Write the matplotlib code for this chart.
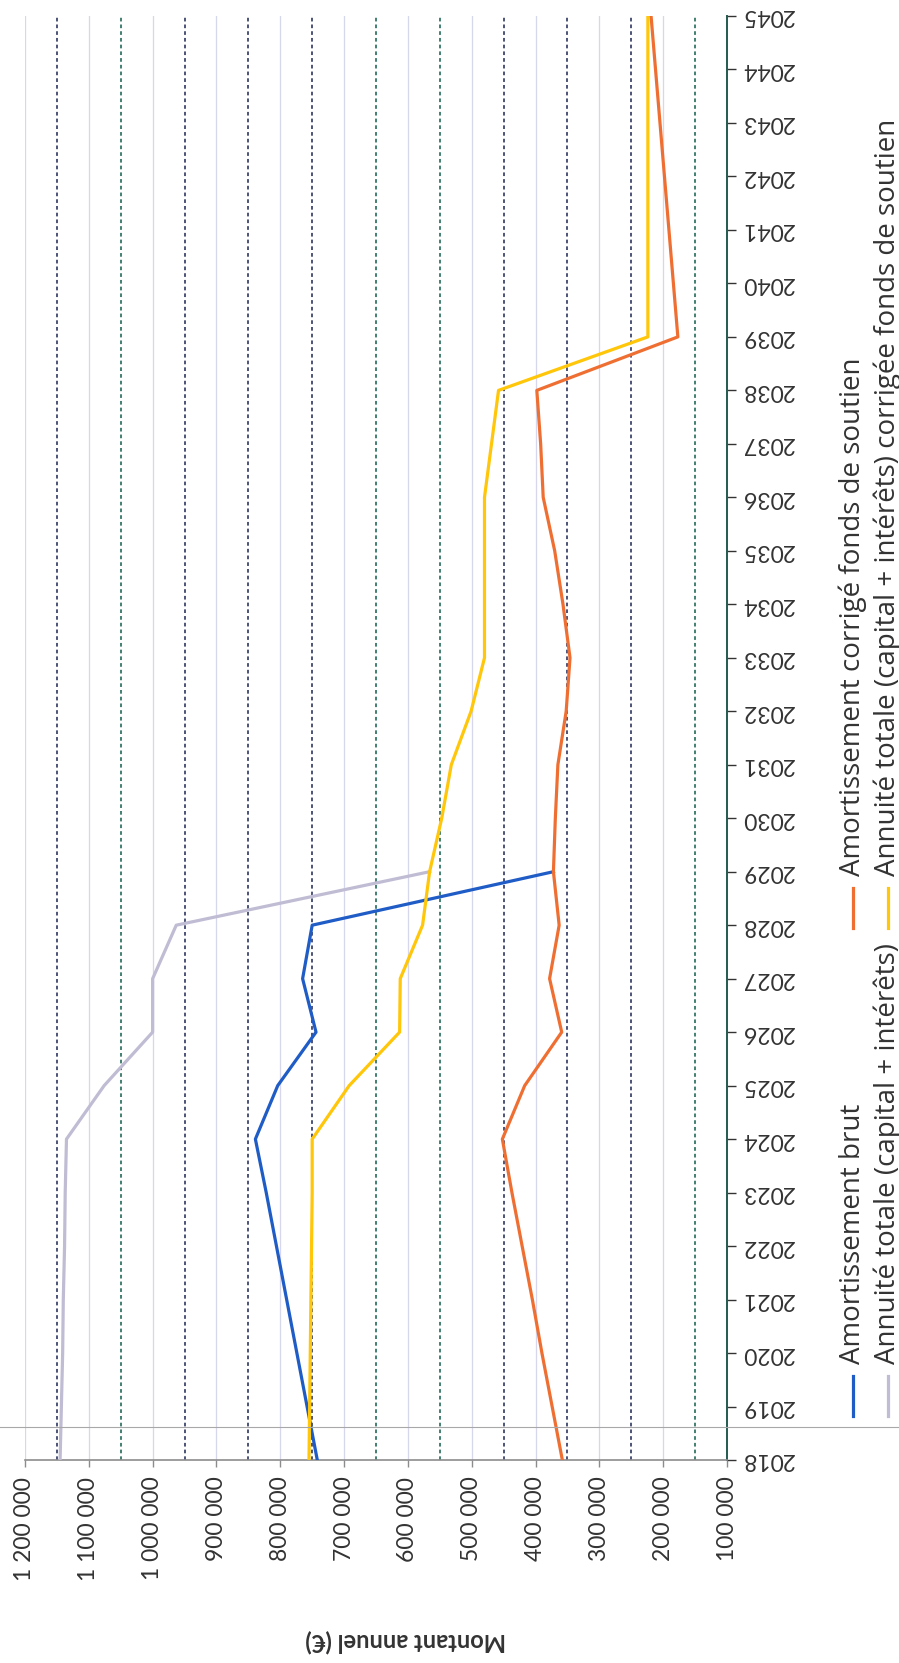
import matplotlib
matplotlib.use('Agg')
import matplotlib.pyplot as plt
from matplotlib.lines import Line2D

plt.rcParams['font.family'] = ['Lato', 'DejaVu Sans']

# ---------------- data ----------------
years = list(range(2018, 2046))
year_labels = [str(y) for y in years]

years_short = list(range(2018, 2030))
amort_brut = [742000, 758000, 774000, 790000, 806000, 822000, 839000,
              804000, 744000, 765000, 750000, 372000]
annuite_totale = [1145000, 1143000, 1141000, 1140000, 1138000, 1137000, 1135000,
                  1076000, 1000000, 1000000, 963000, 566000]
amort_corrige = [358000, 374000, 390000, 405000, 421000, 437000, 452000,
                 417000, 359000, 378000, 363000, 372000, 369000, 365000,
                 352000, 346000, 357000, 370000, 388000, 392000, 398000,
                 177000, 184000, 191000, 198000, 205000, 212000, 219000]
annuite_corrigee = [755000, 754000, 753000, 752000, 751000, 750000, 750000,
                    692000, 613000, 612000, 577000, 566000, 547000, 532000,
                    501000, 480000, 480000, 480000, 480000, 469000, 458000,
                    224000, 224000, 224000, 224000, 224000, 224000, 224000]

series_names = ["Amortissement brut",
                "Amortissement corrigé fonds de soutien",
                "Annuité totale (capital + intérêts)",
                "Annuité totale (capital + intérêts) corrigée fonds de soutien"]

value_ticks = [100000, 200000, 300000, 400000, 500000, 600000,
               700000, 800000, 900000, 1000000, 1100000, 1200000]
value_tick_labels = ["100 000", "200 000", "300 000", "400 000", "500 000", "600 000",
                     "700 000", "800 000", "900 000", "1 000 000", "1 100 000", "1 200 000"]
half_values = [150000, 250000, 350000, 450000, 550000, 650000,
               750000, 850000, 950000, 1050000, 1150000]
axis_label = "Montant annuel (€)"

# ---------------- styles ----------------
c_blue = '#1f5cc6'
c_gray = '#bfbcd3'
c_orange = '#ef6f33'
c_yellow = '#ffc60a'
navy = '#1b2452'
green = '#0f5e4a'
half_colors = [green, navy, navy, navy, green, green, navy, navy, navy, green, navy]
txt = '#333333'

W, H = 899, 1663
fig = plt.figure(figsize=(W / 100, H / 100), dpi=100)
fig.patch.set_facecolor('white')

left_px, right_px, top_px, base_px = 25, 727, 16, 1460
ax = fig.add_axes([left_px / W, 1 - base_px / H, (right_px - left_px) / W, (base_px - top_px) / H])
ax.set_xlim(1200000, 100000)
ax.set_ylim(2018, 2045)

# gridlines
for v in value_ticks[1:]:
    ax.axvline(v, color='#d6d6ec', lw=0.9, zorder=1)
for v, c in zip(half_values, half_colors):
    ax.axvline(v, color=c, lw=1.1, ls=(0, (2.4, 2.0)), zorder=1.5)

lw = 2.3
ax.plot(amort_brut, years_short, color=c_blue, lw=lw, zorder=3, solid_joinstyle='round')
ax.plot(amort_corrige, years, color=c_orange, lw=lw, zorder=4, solid_joinstyle='round')
ax.plot(annuite_totale, years_short, color=c_gray, lw=lw, zorder=3.5, solid_joinstyle='round')
ax.plot(annuite_corrigee, years, color=c_yellow, lw=lw, zorder=3.8, solid_joinstyle='round')

for s in ['top', 'left']:
    ax.spines[s].set_visible(False)
ax.spines['right'].set_color('#245a50')
ax.spines['right'].set_linewidth(1.4)
ax.spines['bottom'].set_color('#8c8c8c')
ax.spines['bottom'].set_linewidth(1.2)

ax.yaxis.tick_right()
ax.set_yticks(years)
ax.set_yticklabels(year_labels, rotation=180, fontsize=16.5, color=txt)
for lab in ax.get_yticklabels():
    lab.set_va('center')
ax.tick_params(axis='y', direction='out', length=6.5, width=1, color='#333333', pad=3.5)

ax.set_xticks(value_ticks)
ax.set_xticklabels(value_tick_labels, rotation=90, fontsize=16.5, color=txt)
ax.tick_params(axis='x', direction='out', length=5, width=1, color='#8c8c8c', pad=7)

ax.set_xlabel(axis_label, rotation=180, fontsize=17, fontweight='bold', color=txt, va='center')
ax.xaxis.set_label_coords((406 - left_px) / (right_px - left_px), (base_px - 1641) / (base_px - top_px))

# legend (rotated, drawn manually)
legend_specs = [
    (series_names[0], c_blue, 853, 1376, 1416, 1364),
    (series_names[2], c_gray, 888, 1376, 1416, 1364),
    (series_names[1], c_orange, 853, 888, 928, 876),
    (series_names[3], c_yellow, 888, 888, 928, 876),
]
for name, col, x, y0, y1, ts in legend_specs:
    fig.add_artist(Line2D([x / W, x / W], [1 - y0 / H, 1 - y1 / H],
                          transform=fig.transFigure, color=col, lw=2.3))
    fig.text(x / W, 1 - ts / H, name, rotation=90, ha='center', va='bottom',
             fontsize=20, color=txt, family=['Open Sans', 'DejaVu Sans'])

# scan border line across the page
fig.add_artist(Line2D([0, 1], [1 - 1427 / H, 1 - 1427 / H], transform=fig.transFigure,
                      color='#a8a8a8', lw=0.8))

fig.savefig('out.png', dpi=100)
